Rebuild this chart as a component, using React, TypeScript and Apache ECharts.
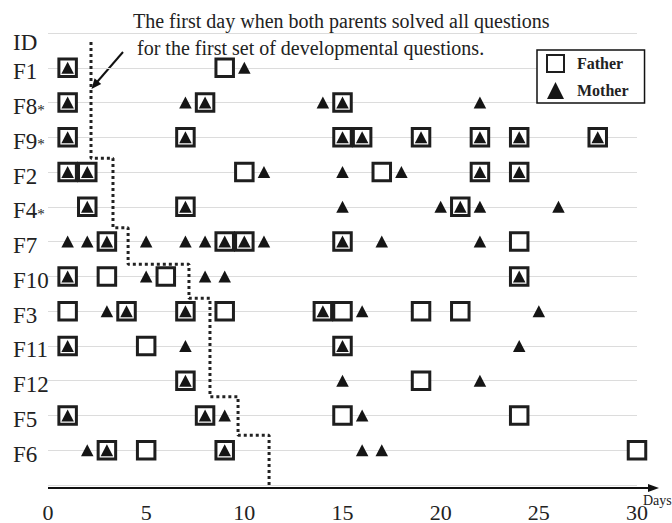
import React, { useEffect, useRef } from "react";
import * as echarts from "echarts";

const rowIds = ["F1", "F8", "F9", "F2", "F4", "F7", "F10", "F3", "F11", "F12", "F5", "F6"];
const starred = [false, true, true, false, true, false, false, false, false, false, false, false];

const fatherDays: number[][] = [
  [1, 9],
  [1, 8, 15],
  [1, 7, 15, 16, 19, 22, 24, 28],
  [1, 2, 10, 17, 22, 24],
  [2, 7, 21],
  [3, 9, 10, 15, 24],
  [1, 3, 6, 24],
  [1, 4, 7, 9, 14, 15, 19, 21],
  [1, 5, 15],
  [7, 19],
  [1, 8, 15, 24],
  [3, 5, 9, 30],
];

const motherDays: number[][] = [
  [1, 10],
  [1, 7, 8, 14, 15, 22],
  [1, 7, 15, 16, 19, 22, 24, 28],
  [1, 2, 11, 15, 18, 22, 24],
  [2, 7, 15, 20, 21, 22, 26],
  [1, 2, 3, 5, 7, 8, 9, 10, 11, 15, 17, 22],
  [1, 5, 8, 9, 24],
  [3, 4, 7, 14, 16, 25],
  [1, 7, 15, 24],
  [7, 15, 22],
  [1, 8, 9, 16],
  [2, 3, 9, 16, 17],
];

const stepDays = [2.19, 2.19, 3.31, 3.31, 4.08, 4.08, 7.18, 7.18, 8.25, 8.25, 9.68, 9.68, 11.26, 11.26];
const stepLevels = [12.74, 9.4, 9.4, 7.4, 7.4, 6.35, 6.35, 5.37, 5.37, 2.54, 2.54, 1.43, 1.43, 0];

const xMin = 0;
const xMax = 30;
const xInterval = 5;

const annotationLines = [
  "The first day when both parents solved all questions",
  "for the first set of developmental questions.",
];

const FONT = "Liberation Serif";

export default function App() {
  const ref = useRef<HTMLDivElement>(null);

  useEffect(() => {
    if (!ref.current) return;
    const chart = echarts.init(ref.current, undefined, { renderer: "svg" });
    const n = rowIds.length;
    const fatherData: number[][] = [];
    const motherData: number[][] = [];
    rowIds.forEach((_, i) => {
      const level = n - i;
      fatherDays[i].forEach((d) => fatherData.push([d, level]));
      motherDays[i].forEach((d) => motherData.push([d, level]));
    });
    const stepData = stepDays.map((d, i) => [d, stepLevels[i]]);

    const gridLeft = 48;
    const gridTop = 33;
    const gridBottom = 35;
    const axisY = 523 - gridBottom;

    chart.setOption({
      animation: false,
      backgroundColor: "#fff",
      textStyle: { fontFamily: FONT },
      grid: { left: gridLeft, right: 35, top: gridTop, bottom: gridBottom, containLabel: false },
      legend: {
        data: ["Father", "Mother"],
        orient: "vertical",
        left: 537,
        top: 50,
        padding: [4, 16, 4, 9],
        itemWidth: 17,
        itemHeight: 17,
        itemGap: 9,
        borderColor: "#111",
        borderWidth: 1.5,
        backgroundColor: "#fff",
        textStyle: {
          fontFamily: FONT,
          fontWeight: "bold",
          fontSize: 16,
          color: "#222",
          padding: [0, 0, 0, 8],
        },
      },
      xAxis: {
        type: "value",
        min: xMin,
        max: xMax,
        interval: xInterval,
        axisLine: { show: false },
        axisTick: { show: false },
        splitLine: { show: false },
        axisLabel: {
          fontFamily: FONT,
          fontSize: 22,
          color: "#222",
          margin: 16,
        },
      },
      yAxis: {
        type: "value",
        min: 0,
        max: n + 1,
        interval: 1,
        axisLine: { show: false },
        axisTick: { show: false },
        splitLine: { show: true, lineStyle: { color: "#dcdcdc", width: 1 } },
        axisLabel: {
          align: "left",
          margin: 35,
          fontFamily: FONT,
          fontSize: 23,
          color: "#222",
          padding: [8, 0, 0, 0],
          formatter: (v: number) => {
            const i = n - v;
            if (i < 0 || i >= n) return "";
            return starred[i] ? rowIds[i] + "{s|*}" : rowIds[i];
          },
          rich: {
            s: { fontFamily: FONT, fontSize: 15, color: "#222", padding: [6, 0, 0, 0] },
          },
        },
      },
      series: [
        {
          name: "Step",
          type: "line",
          data: stepData,
          symbol: "none",
          silent: true,
          z: 1,
          lineStyle: { color: "#222", width: 3, type: [3, 3] },
        },
        {
          name: "Father",
          type: "scatter",
          data: fatherData,
          symbol: "rect",
          symbolSize: 17.5,
          clip: false,
          z: 3,
          itemStyle: { color: "#fff", borderColor: "#1e1e1e", borderWidth: 3, opacity: 1 },
        },
        {
          name: "Mother",
          type: "scatter",
          data: motherData,
          symbol: "triangle",
          symbolSize: [12.5, 12],
          clip: false,
          z: 4,
          itemStyle: { color: "#151515", opacity: 1 },
        },
      ],
      graphic: [
        {
          type: "text",
          x: 13,
          y: 42,
          style: { text: "ID", fontFamily: FONT, fontSize: 23, fill: "#222", verticalAlign: "middle" },
        },
        {
          type: "text",
          x: 133,
          y: 21,
          style: { text: annotationLines[0], fontFamily: FONT, fontSize: 20, fill: "#222", verticalAlign: "middle" },
        },
        {
          type: "text",
          x: 137,
          y: 47.5,
          style: { text: annotationLines[1], fontFamily: FONT, fontSize: 20, fill: "#222", verticalAlign: "middle" },
        },
        {
          type: "line",
          shape: { x1: 123, y1: 52, x2: 97.5, y2: 81.5 },
          style: { stroke: "#111", lineWidth: 2 },
        },
        {
          type: "polygon",
          shape: { points: [[91.5, 89], [101.2, 84], [94.6, 78.3]] },
          style: { fill: "#111" },
        },
        {
          type: "line",
          shape: { x1: 48, y1: axisY, x2: 650, y2: axisY },
          style: { stroke: "#111", lineWidth: 2 },
          z: 5,
        },
        {
          type: "polygon",
          shape: { points: [[659, axisY], [648, axisY - 4], [648, axisY + 4]] },
          style: { fill: "#111" },
          z: 5,
        },
        {
          type: "text",
          x: 643,
          y: 500,
          style: { text: "Days", fontFamily: FONT, fontSize: 14, fill: "#222", verticalAlign: "middle" },
        },
      ],
    });
    return () => chart.dispose();
  }, []);

  return (
    <div
      ref={ref}
      style={{ position: "fixed", left: 0, top: 0, width: 672, height: 523, background: "#fff" }}
    />
  );
}
